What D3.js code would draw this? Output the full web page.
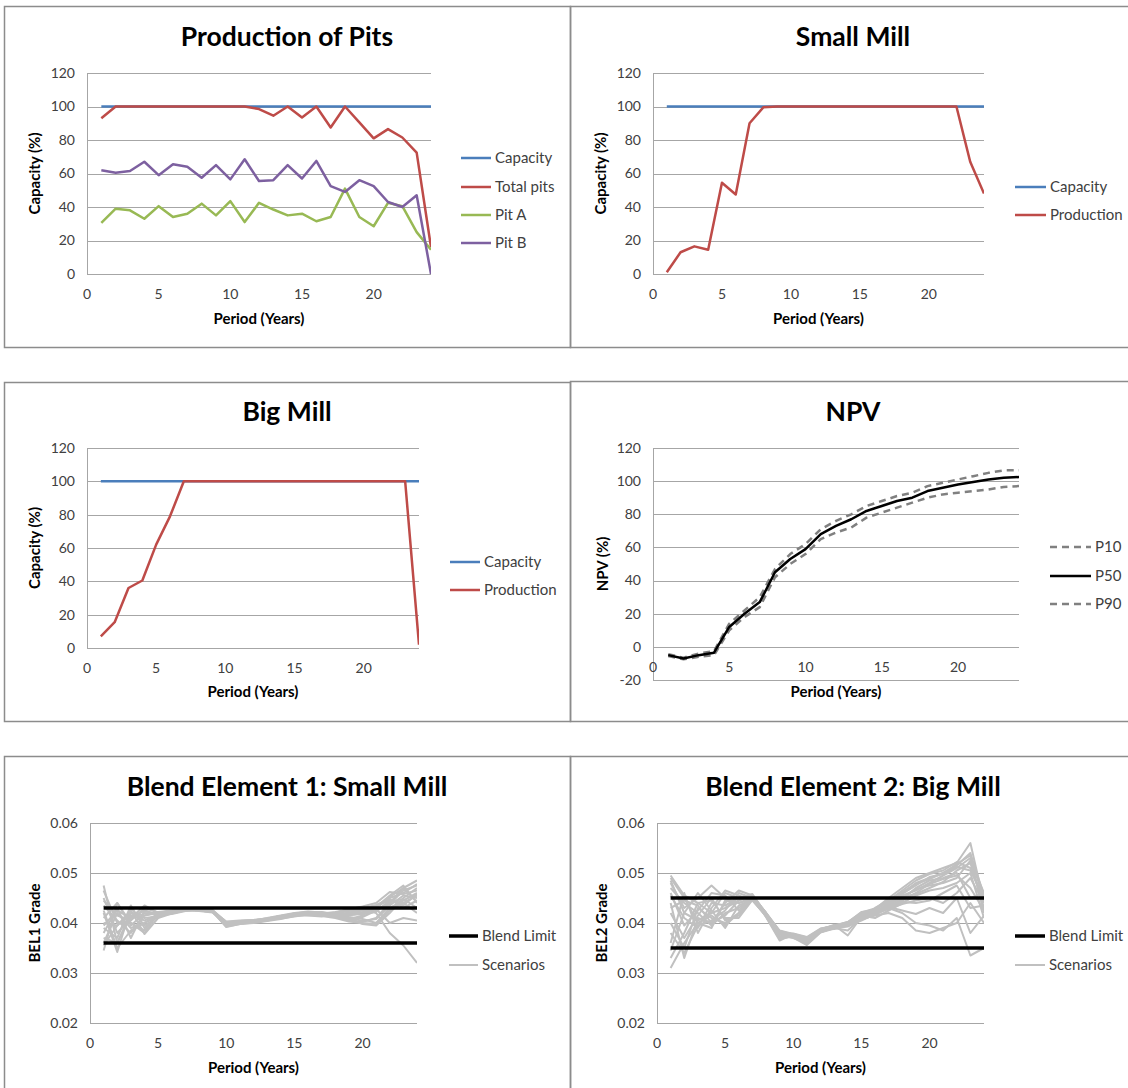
<!DOCTYPE html>
<html lang="en">
<head>
<meta charset="UTF-8">
<title>Mine Planning Charts</title>
<style>
  body { margin: 0; background: #fff; font-family: Lato, "Open Sans", sans-serif; }
  svg text { fill: #000; }
  .grid line { stroke: #a6a6a6; stroke-width: 1; }
  .tick-label { font-size: 14px; fill: #404040; }
  .panel-title { font-size: 26.5px; font-weight: bold; }
  .axis-title { font-size: 15px; font-weight: bold; }
  .legend-text { font-size: 15px; fill: #404040; }
</style>
</head>
<body>
<svg id="chart" width="1128" height="1088"></svg>
<script src="https://d3js.org/d3.v7.min.js"></script>
<script>
// ---------------- data ----------------
const periods = d3.range(1, 25);

const capacity = periods.map(() => 100);
const totalPits = [93, 100, 100, 100, 100, 100, 100, 100, 100, 100, 100, 98.5, 94.5, 100, 93.5, 100, 87.5, 100, 90.5, 81, 86.5, 81.5, 72.5, 16];
const pitA = [30.5, 39, 38, 33, 40.5, 34, 36, 42, 35, 43.5, 31, 42.5, 38.5, 35, 36, 31.5, 34, 51, 34, 28.5, 42.5, 40.5, 25, 14.5];
const pitB = [62, 60.5, 61.5, 67, 59, 65.5, 64, 57.5, 65, 56.5, 68.5, 55.5, 56, 65, 57, 67.5, 52.5, 49, 56, 52.5, 43, 40, 47, 0];

const smallMillProd = [1, 13, 16.5, 14.5, 54.5, 47.5, 90, 99.5, 100, 100, 100, 100, 100, 100, 100, 100, 100, 100, 100, 100, 100, 100, 67, 48];
const bigMillProd = [7, 15.5, 36, 40.5, 62, 79, 100, 100, 100, 100, 100, 100, 100, 100, 100, 100, 100, 100, 100, 100, 100, 100, 100, 2];

const npvP10 = [-4.5, -6.5, -4, -2.5, 14, 22, 30, 47, 56, 62, 71, 76, 80, 85, 88, 91, 93, 97, 99, 101, 103, 105, 106.5, 106.5];
const npvP50 = [-5, -7, -5, -3.5, 12, 20, 27, 45, 53, 59, 68, 73, 77, 82, 85, 88, 90, 94, 96, 98, 99.5, 101, 102, 102.5];
const npvP90 = [-5.5, -7.5, -6, -5, 10, 18, 24, 42, 50, 56, 65, 69, 72, 78, 81, 84, 87, 90, 92, 93, 94, 95, 96.5, 97];

const bel1Limits = [0.043, 0.036];
const bel1Scenarios = [
  [.0475,.0360,.0420,.0415,.0420,.0425,.0428,.0425,.0422,.0398,.0402,.0403,.0406,.0410,.0415,.0418,.0416,.0412,.0405,.0402,.0410,.0440,.0470,.0485],
  [.0345,.0440,.0400,.0380,.0418,.0422,.0426,.0427,.0424,.0395,.0400,.0402,.0405,.0412,.0418,.0420,.0418,.0415,.0420,.0425,.0430,.0450,.0460,.0478],
  [.0420,.0342,.0430,.0395,.0412,.0420,.0430,.0428,.0425,.0400,.0404,.0405,.0408,.0414,.0416,.0415,.0413,.0420,.0428,.0432,.0420,.0380,.0355,.0320],
  [.0380,.0430,.0370,.0425,.0416,.0418,.0424,.0426,.0423,.0392,.0398,.0400,.0404,.0408,.0414,.0422,.0420,.0418,.0412,.0408,.0400,.0430,.0445,.0460],
  [.0450,.0380,.0410,.0435,.0420,.0424,.0427,.0424,.0421,.0397,.0401,.0404,.0407,.0413,.0417,.0416,.0419,.0422,.0426,.0430,.0435,.0445,.0440,.0420],
  [.0360,.0420,.0390,.0400,.0414,.0421,.0429,.0429,.0426,.0402,.0403,.0405,.0410,.0415,.0420,.0423,.0421,.0416,.0410,.0398,.0395,.0420,.0450,.0470],
  [.0400,.0395,.0425,.0378,.0410,.0419,.0425,.0427,.0424,.0394,.0399,.0402,.0406,.0411,.0416,.0419,.0417,.0414,.0418,.0422,.0428,.0400,.0410,.0405],
  [.0435,.0405,.0380,.0415,.0422,.0425,.0428,.0426,.0423,.0399,.0402,.0403,.0408,.0412,.0419,.0421,.0419,.0413,.0407,.0415,.0432,.0455,.0475,.0440],
  [.0370,.0360,.0415,.0405,.0417,.0422,.0426,.0425,.0422,.0396,.0400,.0404,.0406,.0409,.0413,.0417,.0415,.0419,.0424,.0428,.0436,.0448,.0430,.0445],
  [.0410,.0440,.0395,.0420,.0419,.0423,.0428,.0428,.0425,.0401,.0404,.0406,.0409,.0414,.0418,.0420,.0422,.0417,.0411,.0404,.0408,.0435,.0455,.0450],
  [.0390,.0370,.0435,.0390,.0415,.0420,.0427,.0426,.0424,.0393,.0398,.0401,.0405,.0410,.0415,.0418,.0416,.0421,.0427,.0433,.0440,.0462,.0458,.0465],
  [.0445,.0415,.0405,.0430,.0421,.0424,.0429,.0427,.0423,.0400,.0403,.0405,.0407,.0413,.0417,.0419,.0418,.0414,.0409,.0412,.0425,.0442,.0448,.0430],
  [.0355,.0395,.0420,.0410,.0413,.0421,.0425,.0426,.0424,.0397,.0401,.0403,.0407,.0412,.0416,.0418,.0420,.0418,.0415,.0420,.0428,.0438,.0465,.0475],
  [.0425,.0350,.0385,.0400,.0418,.0422,.0427,.0428,.0425,.0398,.0402,.0404,.0408,.0411,.0414,.0416,.0414,.0410,.0403,.0400,.0398,.0425,.0440,.0455],
  [.0395,.0425,.0410,.0425,.0416,.0423,.0426,.0425,.0422,.0395,.0399,.0402,.0406,.0412,.0417,.0421,.0419,.0416,.0421,.0426,.0431,.0452,.0470,.0442],
  [.0465,.0400,.0400,.0385,.0420,.0424,.0428,.0427,.0424,.0403,.0405,.0406,.0409,.0414,.0419,.0422,.0421,.0419,.0416,.0418,.0422,.0446,.0435,.0458]
];

const bel2Limits = [0.045, 0.035];
const bel2Scenarios = [
  [.0495,.0455,.0440,.0420,.0430,.0445,.0455,.0420,.0385,.0378,.0370,.0385,.0392,.0398,.0420,.0428,.0450,.0470,.0490,.0500,.0510,.0520,.0560,.0440],
  [.0310,.0360,.0400,.0415,.0395,.0420,.0450,.0415,.0372,.0375,.0358,.0382,.0390,.0385,.0410,.0420,.0440,.0455,.0465,.0480,.0495,.0510,.0530,.0420],
  [.0480,.0430,.0450,.0475,.0450,.0440,.0448,.0418,.0380,.0372,.0362,.0388,.0395,.0402,.0418,.0425,.0430,.0420,.0400,.0395,.0385,.0410,.0335,.0350],
  [.0440,.0330,.0410,.0400,.0440,.0465,.0455,.0412,.0365,.0378,.0366,.0386,.0388,.0395,.0405,.0418,.0438,.0460,.0480,.0490,.0500,.0515,.0540,.0455],
  [.0360,.0460,.0380,.0430,.0465,.0455,.0445,.0416,.0378,.0370,.0360,.0384,.0392,.0400,.0415,.0410,.0425,.0440,.0455,.0465,.0470,.0480,.0500,.0410],
  [.0470,.0440,.0420,.0395,.0420,.0430,.0452,.0420,.0382,.0376,.0368,.0387,.0396,.0375,.0412,.0430,.0445,.0465,.0485,.0498,.0505,.0522,.0510,.0445],
  [.0330,.0380,.0440,.0445,.0410,.0410,.0446,.0414,.0370,.0373,.0364,.0383,.0391,.0396,.0408,.0415,.0420,.0410,.0385,.0380,.0390,.0400,.0440,.0400],
  [.0455,.0410,.0390,.0440,.0435,.0450,.0458,.0419,.0376,.0379,.0372,.0389,.0394,.0401,.0422,.0426,.0432,.0448,.0470,.0485,.0490,.0500,.0450,.0460],
  [.0400,.0350,.0430,.0410,.0400,.0420,.0449,.0417,.0374,.0371,.0356,.0381,.0389,.0397,.0413,.0422,.0436,.0452,.0458,.0470,.0482,.0505,.0520,.0430],
  [.0490,.0450,.0400,.0390,.0445,.0440,.0451,.0421,.0384,.0377,.0369,.0386,.0393,.0399,.0416,.0419,.0428,.0438,.0445,.0450,.0440,.0460,.0490,.0440],
  [.0345,.0420,.0460,.0425,.0390,.0435,.0447,.0413,.0368,.0374,.0363,.0384,.0390,.0394,.0409,.0417,.0433,.0445,.0460,.0478,.0488,.0495,.0470,.0425],
  [.0460,.0395,.0425,.0460,.0455,.0425,.0453,.0418,.0379,.0376,.0367,.0386,.0395,.0400,.0419,.0427,.0442,.0458,.0475,.0492,.0498,.0512,.0505,.0450],
  [.0380,.0340,.0395,.0405,.0425,.0460,.0450,.0416,.0377,.0373,.0361,.0383,.0392,.0398,.0414,.0421,.0432,.0425,.0418,.0430,.0420,.0450,.0380,.0415],
  [.0430,.0445,.0435,.0400,.0415,.0445,.0456,.0420,.0381,.0378,.0371,.0388,.0394,.0402,.0421,.0429,.0446,.0462,.0478,.0488,.0500,.0518,.0535,.0445],
  [.0420,.0370,.0415,.0450,.0405,.0415,.0447,.0414,.0371,.0372,.0359,.0382,.0390,.0393,.0407,.0416,.0430,.0442,.0440,.0445,.0460,.0475,.0430,.0435],
  [.0485,.0420,.0405,.0420,.0460,.0450,.0454,.0419,.0383,.0377,.0370,.0387,.0393,.0399,.0417,.0424,.0437,.0450,.0468,.0475,.0480,.0490,.0525,.0460]
];

const xTicks = [0, 5, 10, 15, 20];
const pctTicks = [0, 20, 40, 60, 80, 100, 120];
const npvTicks = [-20, 0, 20, 40, 60, 80, 100, 120];
const gradeTicks = [0.02, 0.03, 0.04, 0.05, 0.06];

// colours
const BLUE = "#4a7ebb", RED = "#be4b48", GREEN = "#98b954", PURPLE = "#7d60a0";
const GREY = "#c0c0c0", DASH = "#808080";

const svg = d3.select("#chart");

// panel frames
const frames = [
  [4, 6, 566, 341], [570, 6, 570, 341],
  [4, 382, 566, 339], [570, 381, 570, 340],
  [4, 756, 566, 340], [570, 756, 570, 340]
];
svg.selectAll("rect.frame").data(frames).enter().append("rect")
  .attr("class", "frame")
  .attr("x", d => d[0] + 0.5).attr("y", d => d[1] + 0.5)
  .attr("width", d => d[2]).attr("height", d => d[3])
  .attr("fill", "none").attr("stroke", "#8c8c8c").attr("stroke-width", 1.5);

function drawPanel(cfg) {
  const g = svg.append("g");
  const x = d3.scaleLinear().domain([0, 24]).range([cfg.l, cfg.r]);
  const y = d3.scaleLinear().domain(cfg.yDomain).range([cfg.b, cfg.t]);

  // gridlines
  g.append("g").attr("class", "grid").selectAll("line")
    .data(cfg.yTicks).enter().append("line")
    .attr("x1", cfg.l).attr("x2", cfg.r)
    .attr("y1", d => Math.round(y(d)) + 0.5).attr("y2", d => Math.round(y(d)) + 0.5);
  // vertical axis line
  g.append("line").attr("x1", cfg.l + 0.5).attr("x2", cfg.l + 0.5)
    .attr("y1", cfg.t).attr("y2", cfg.b).attr("stroke", "#a6a6a6");

  // tick labels
  g.selectAll("text.yt").data(cfg.yTicks).enter().append("text")
    .attr("class", "tick-label").attr("text-anchor", "end")
    .attr("x", cfg.l - 12).attr("y", d => y(d)).attr("dy", "0.35em")
    .text(cfg.yFormat);
  const xAxisY = y(cfg.xAxisAt);
  g.selectAll("text.xt").data(xTicks).enter().append("text")
    .attr("class", "tick-label").attr("text-anchor", "middle")
    .attr("x", d => x(d)).attr("y", xAxisY + 20).attr("dy", "0.35em")
    .text(d => d);

  // series
  const clipId = "clip" + cfg.id;
  g.append("clipPath").attr("id", clipId).append("rect")
    .attr("x", cfg.l).attr("y", cfg.t - 10).attr("width", cfg.r - cfg.l).attr("height", cfg.b - cfg.t + 20);
  const line = d3.line().x((d, i) => x(periods[i])).y(d => y(d));
  const sg = g.append("g").attr("clip-path", `url(#${clipId})`);
  cfg.series.forEach(s => {
    sg.append("path").datum(s.values)
      .attr("d", line).attr("fill", "none")
      .attr("stroke", s.color).attr("stroke-width", s.width)
      .attr("stroke-dasharray", s.dash || null)
      .attr("stroke-linejoin", "round");
  });

  // titles
  g.append("text").attr("class", "panel-title").attr("text-anchor", "middle")
    .attr("x", cfg.titleX).attr("y", cfg.titleY).attr("dy", "0.35em").text(cfg.title);
  g.append("text").attr("class", "axis-title").attr("text-anchor", "middle")
    .attr("x", (cfg.l + cfg.r) / 2).attr("y", cfg.xTitleY).attr("dy", "0.35em").text("Period (Years)");
  g.append("text").attr("class", "axis-title").attr("text-anchor", "middle")
    .attr("transform", `translate(${cfg.yTitleX},${(cfg.t + cfg.b) / 2}) rotate(-90)`)
    .attr("dy", "0.35em").text(cfg.yTitle);

  // legend
  const lg = g.append("g");
  cfg.legend.forEach((item, i) => {
    const ly = cfg.legendYs[i];
    lg.append("line").attr("x1", cfg.legX1).attr("x2", cfg.legX2)
      .attr("y1", ly).attr("y2", ly)
      .attr("stroke", item.color).attr("stroke-width", item.width)
      .attr("stroke-dasharray", item.dash || null);
    lg.append("text").attr("class", "legend-text")
      .attr("x", cfg.legX2 + 4).attr("y", ly).attr("dy", "0.35em").text(item.name);
  });
}

const pctFmt = d => d;
const gradeFmt = d => d.toFixed(2);

drawPanel({
  id: 1, title: "Production of Pits", titleX: 287, titleY: 37,
  l: 87, r: 431, t: 73, b: 274, yDomain: [0, 120], yTicks: pctTicks, yFormat: pctFmt, xAxisAt: 0,
  xTitleY: 319, yTitleX: 35, yTitle: "Capacity (%)",
  series: [
    { values: capacity, color: BLUE, width: 2.5 },
    { values: totalPits, color: RED, width: 2.5 },
    { values: pitA, color: GREEN, width: 2.5 },
    { values: pitB, color: PURPLE, width: 2.5 }
  ],
  legend: [
    { name: "Capacity", color: BLUE, width: 2.5 },
    { name: "Total pits", color: RED, width: 2.5 },
    { name: "Pit A", color: GREEN, width: 2.5 },
    { name: "Pit B", color: PURPLE, width: 2.5 }
  ],
  legX1: 461, legX2: 491, legendYs: [158, 187, 215, 243]
});

drawPanel({
  id: 2, title: "Small Mill", titleX: 853, titleY: 37,
  l: 653, r: 984, t: 73, b: 274, yDomain: [0, 120], yTicks: pctTicks, yFormat: pctFmt, xAxisAt: 0,
  xTitleY: 319, yTitleX: 601, yTitle: "Capacity (%)",
  series: [
    { values: capacity, color: BLUE, width: 2.5 },
    { values: smallMillProd, color: RED, width: 2.5 }
  ],
  legend: [
    { name: "Capacity", color: BLUE, width: 2.5 },
    { name: "Production", color: RED, width: 2.5 }
  ],
  legX1: 1015, legX2: 1046, legendYs: [187, 215]
});

drawPanel({
  id: 3, title: "Big Mill", titleX: 287, titleY: 412,
  l: 87, r: 419, t: 448, b: 648, yDomain: [0, 120], yTicks: pctTicks, yFormat: pctFmt, xAxisAt: 0,
  xTitleY: 692, yTitleX: 35, yTitle: "Capacity (%)",
  series: [
    { values: capacity, color: BLUE, width: 2.5 },
    { values: bigMillProd, color: RED, width: 2.5 }
  ],
  legend: [
    { name: "Capacity", color: BLUE, width: 2.5 },
    { name: "Production", color: RED, width: 2.5 }
  ],
  legX1: 450, legX2: 480, legendYs: [562, 590]
});

drawPanel({
  id: 4, title: "NPV", titleX: 853, titleY: 412,
  l: 653, r: 1019, t: 448, b: 680, yDomain: [-20, 120], yTicks: npvTicks, yFormat: pctFmt, xAxisAt: 0,
  xTitleY: 692, yTitleX: 603, yTitle: "NPV (%)",
  series: [
    { values: npvP10, color: DASH, width: 2.5, dash: "7,5" },
    { values: npvP90, color: DASH, width: 2.5, dash: "7,5" },
    { values: npvP50, color: "#000", width: 2.5 }
  ],
  legend: [
    { name: "P10", color: DASH, width: 2.5, dash: "7,5" },
    { name: "P50", color: "#000", width: 2.5 },
    { name: "P90", color: DASH, width: 2.5, dash: "7,5" }
  ],
  legX1: 1050, legX2: 1091, legendYs: [547, 576, 604]
});

function blendSeries(scen, limits) {
  const out = scen.map(v => ({ values: v, color: GREY, width: 2 }));
  limits.forEach(lim => out.push({ values: periods.map(() => lim), color: "#000", width: 3.5 }));
  return out;
}

drawPanel({
  id: 5, title: "Blend Element 1: Small Mill", titleX: 287, titleY: 787,
  l: 90, r: 417, t: 823, b: 1023, yDomain: [0.02, 0.06], yTicks: gradeTicks, yFormat: gradeFmt, xAxisAt: 0.02,
  xTitleY: 1068, yTitleX: 35, yTitle: "BEL1 Grade",
  series: blendSeries(bel1Scenarios, bel1Limits),
  legend: [
    { name: "Blend Limit", color: "#000", width: 3.5 },
    { name: "Scenarios", color: GREY, width: 2 }
  ],
  legX1: 449, legX2: 478, legendYs: [936, 965]
});

drawPanel({
  id: 6, title: "Blend Element 2: Big Mill", titleX: 853, titleY: 787,
  l: 657, r: 984, t: 823, b: 1023, yDomain: [0.02, 0.06], yTicks: gradeTicks, yFormat: gradeFmt, xAxisAt: 0.02,
  xTitleY: 1068, yTitleX: 602, yTitle: "BEL2 Grade",
  series: blendSeries(bel2Scenarios, bel2Limits),
  legend: [
    { name: "Blend Limit", color: "#000", width: 3.5 },
    { name: "Scenarios", color: GREY, width: 2 }
  ],
  legX1: 1015, legX2: 1045, legendYs: [936, 965]
});
</script>
</body>
</html>
